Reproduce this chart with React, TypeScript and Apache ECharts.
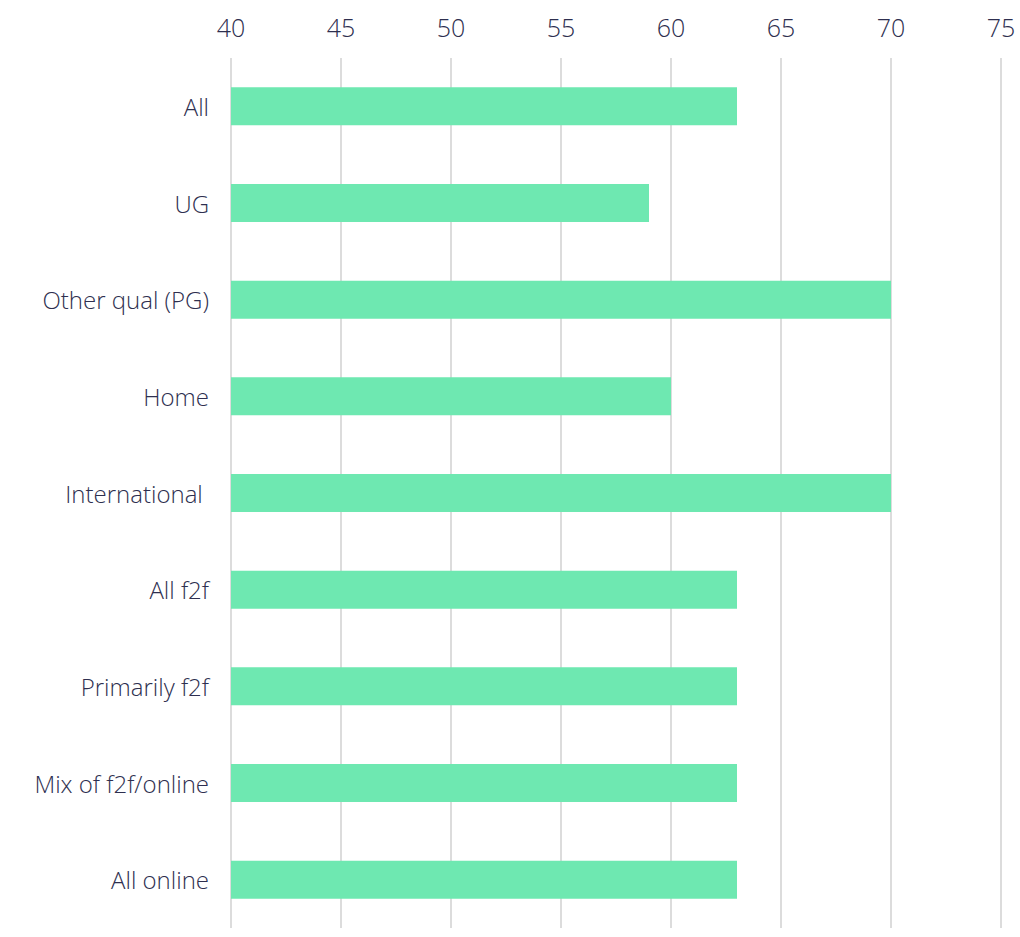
import React, { useEffect, useRef } from "react";
import * as echarts from "echarts";

const categories = [
  "All",
  "UG",
  "Other qual (PG)",
  "Home",
  "International ",
  "All f2f",
  "Primarily f2f",
  "Mix of f2f/online",
  "All online",
];
const values = [63, 59, 70, 60, 70, 63, 63, 63, 63];
const xMin = 40;
const xMax = 75;
const xStep = 5;

export default function App() {
  const ref = useRef<HTMLDivElement>(null);
  useEffect(() => {
    if (!ref.current) return;
    const chart = echarts.init(ref.current, null, { renderer: "svg" });
    const textColor = "#2e2f4f";
    const font = "'Open Sans', sans-serif";
    chart.setOption({
      animation: false,
      backgroundColor: "#ffffff",
      grid: { left: 231, right: 19, top: 58, bottom: 9, containLabel: false },
      xAxis: {
        type: "value",
        position: "top",
        min: xMin,
        max: xMax,
        interval: xStep,
        axisLine: { show: false },
        axisTick: { show: false },
        axisLabel: { color: textColor, fontSize: 25, fontWeight: 300, fontFamily: font, margin: 19 },
        splitLine: { show: true, lineStyle: { color: "#dcdcdc", width: 2 } },
      },
      yAxis: {
        type: "category",
        inverse: true,
        data: categories,
        axisLine: { show: false },
        axisTick: { show: false },
        axisLabel: {
          color: textColor,
          fontSize: 24,
          fontWeight: 300,
          fontFamily: font,
          margin: 22,
          padding: [0, 0, 5, 0],
        },
        splitLine: { show: false },
      },
      series: [
        {
          type: "bar",
          data: values,
          barWidth: 38,
          itemStyle: { color: "#6ee8b1" },
        },
      ],
    });
    return () => chart.dispose();
  }, []);
  return (
    <div
      ref={ref}
      style={{ position: "fixed", left: 0, top: 0, width: 1020, height: 937 }}
    />
  );
}
